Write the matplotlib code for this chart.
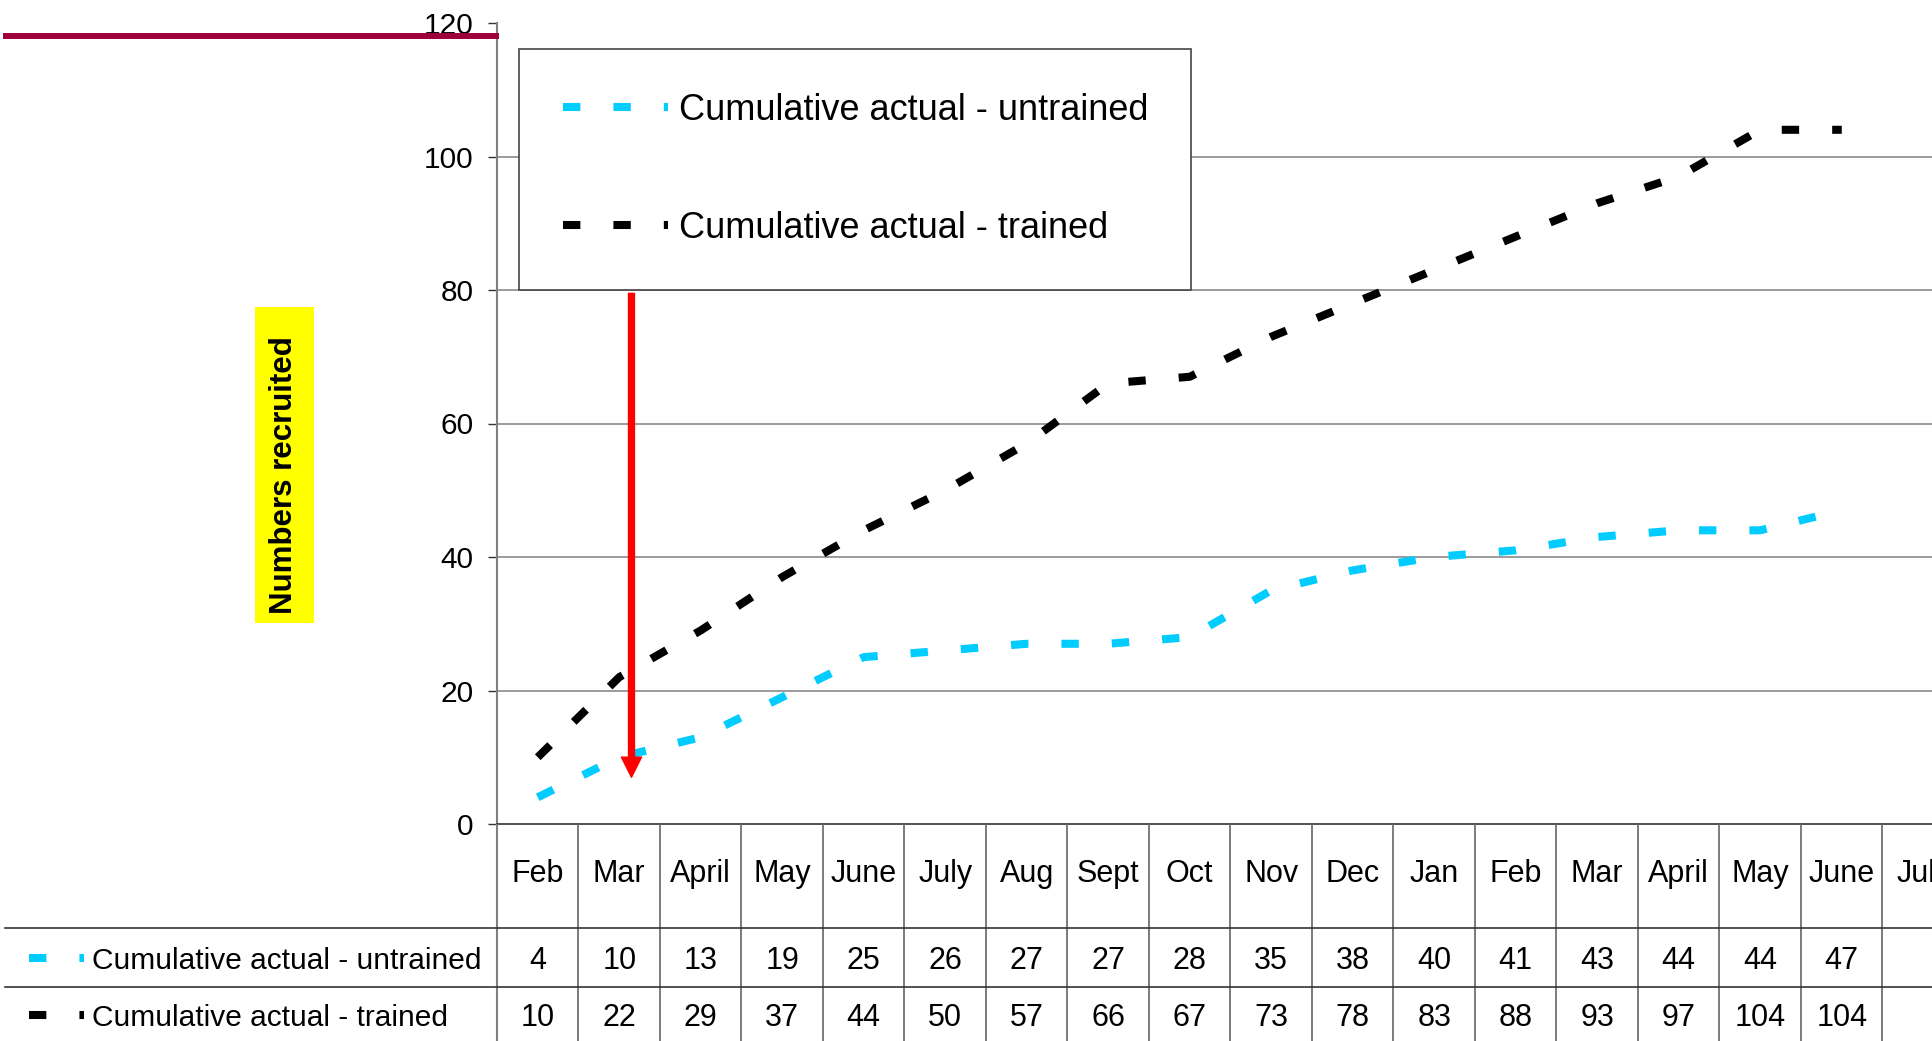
import matplotlib
matplotlib.use("Agg")
import matplotlib.pyplot as plt
from matplotlib.lines import Line2D
from matplotlib.patches import Rectangle

plt.rcParams['font.family'] = ['Liberation Sans', 'DejaVu Sans']
plt.rcParams['lines.scale_dashes'] = False

months = ["Feb", "Mar", "April", "May", "June", "July", "Aug", "Sept", "Oct",
          "Nov", "Dec", "Jan", "Feb", "Mar", "April", "May", "June", "July"]
untrained = [4, 10, 13, 19, 25, 26, 27, 27, 28, 35, 38, 40, 41, 43, 44, 44, 47]
trained = [10, 22, 29, 37, 44, 50, 57, 66, 67, 73, 78, 83, 88, 93, 97, 104, 104]
series_names = ["Cumulative actual - untrained", "Cumulative actual - trained"]
yticks = [0, 20, 40, 60, 80, 100, 120]

cyan = "#00CCFF"
dash = (12.5, 23.8)
lw = 5.8

W, H = 1933, 1041
fig = plt.figure(figsize=(W / 100, H / 100), dpi=100)

def fx(p):
    return p / W

def fy(p):
    return 1 - p / H

# plot area in pixels (last column runs past the right edge, like the original)
x0, col_w = 497, 81.5
n_cols = len(months)
x1 = x0 + n_cols * col_w
y_top, y_zero = 23, 824

def px2x(p):
    return -0.5 + (p - x0) / col_w

ax = fig.add_axes([fx(x0), fy(y_zero), fx(x1) - fx(x0), (y_zero - y_top) / H])
ax.set_xlim(-0.5, n_cols - 0.5)
ax.set_ylim(0, 120)
ax.set_yticks(yticks)
ax.set_xticks([])
ax.yaxis.grid(True, color="#808080", lw=1.1)
ax.get_ygridlines()[0].set_visible(False)
ax.get_ygridlines()[-1].set_visible(False)
ax.tick_params(axis="y", length=6.5, width=1, color="#333333", labelsize=21.5, pad=10.5)
ax.spines["top"].set_visible(False)
ax.spines["right"].set_visible(False)
ax.spines["left"].set_color("#808080")
ax.spines["left"].set_linewidth(1.5)
ax.spines["bottom"].set_color("#333333")
ax.spines["bottom"].set_linewidth(1.2)

h1, = ax.plot(range(len(untrained)), untrained, color=cyan, lw=lw, dashes=dash,
              label=series_names[0], zorder=3)
h2, = ax.plot(range(len(trained)), trained, color="black", lw=lw, dashes=dash,
              label=series_names[1], zorder=3)

ax.annotate("", xy=(1.15, 7), xytext=(1.15, 79.5),
            arrowprops=dict(facecolor="red", edgecolor="red", width=4.3,
                            headwidth=14.5, headlength=14.5, shrink=0), zorder=4)

leg = ax.legend(handles=[h1, h2], loc="upper left",
                bbox_to_anchor=(fx(519), fy(290), fx(1191) - fx(519), (290 - 49) / H),
                bbox_transform=fig.transFigure, mode="expand", borderaxespad=0,
                fontsize=26, borderpad=1.22, labelspacing=2.3, handlelength=2.9,
                handletextpad=0.3, fancybox=False, framealpha=1, edgecolor="#444444")
leg.get_frame().set_linewidth(1.2)
leg.set_zorder(5)

# y label on yellow panel
fig.add_artist(Rectangle((fx(255), fy(623)), fx(314) - fx(255), (623 - 307) / H,
                         transform=fig.transFigure, facecolor="yellow", edgecolor="none"))
fig.text(fx(284.5), fy(475), "Numbers recruited", rotation=90, ha="center", va="center",
         fontsize=22.5, fontweight="bold")

# dark red rule at top left
fig.add_artist(Line2D([fx(6), fx(496)], [fy(36), fy(36)], transform=fig.transFigure,
                      color="#A0003A", lw=4.3))

# data table below the plot
tax = fig.add_axes([0, 0, fx(x1), fy(y_zero)])
tax.set_xlim(px2x(0), n_cols - 0.5)
tax.set_ylim(H - y_zero, 0)
tax.axis("off")

for k in range(n_cols + 1):
    tax.plot([k - 0.5, k - 0.5], [0, H - y_zero],
             color="#808080" if k == 0 else "#666666", lw=1.5 if k == 0 else 1.2)
for yl in (928, 987):
    tax.plot([px2x(5), n_cols - 0.5], [yl - y_zero] * 2, color="#333333", lw=1.2)

for i, m in enumerate(months):
    tax.text(i, 882 - y_zero, m, ha="center", va="baseline", fontsize=22)

rows = [(untrained, cyan, 969, 958), (trained, "black", 1026, 1015)]
for (vals, col, base, key_y), name in zip(rows, series_names):
    for i, v in enumerate(vals):
        tax.text(i, base - y_zero, str(v), ha="center", va="baseline", fontsize=22)
    tax.plot([px2x(29), px2x(84)], [key_y - y_zero] * 2, color=col, lw=lw, dashes=dash)
    tax.text(px2x(92), base - y_zero, name, ha="left", va="baseline", fontsize=21.5)

fig.savefig("out.png", dpi=100)
